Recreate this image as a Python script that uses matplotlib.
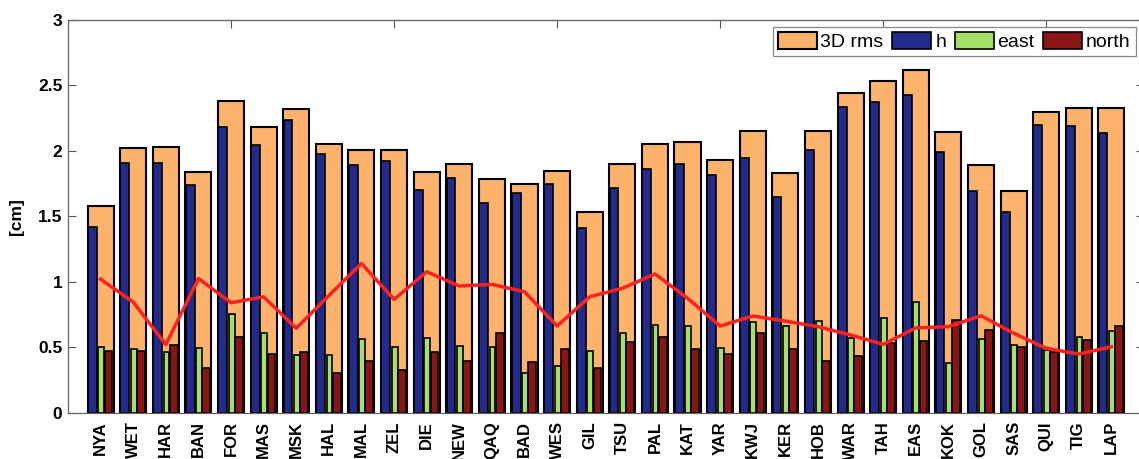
import matplotlib.pyplot as plt
import numpy as np

plt.rcParams['font.family'] = ['Liberation Sans', 'DejaVu Sans']

# station codes along the x axis
stations = ['NYA', 'WET', 'HAR', 'BAN', 'FOR', 'MAS', 'MSK', 'HAL', 'MAL', 'ZEL',
            'DIE', 'NEW', 'QAQ', 'BAD', 'WES', 'GIL', 'TSU', 'PAL', 'KAT', 'YAR',
            'KWJ', 'KER', 'HOB', 'WAR', 'TAH', 'EAS', 'KOK', 'GOL', 'SAS', 'QUI',
            'TIG', 'LAP']

# values in cm
rms3d = [1.58, 2.02, 2.03, 1.84, 2.38, 2.18, 2.32, 2.05, 2.01, 2.01,
         1.84, 1.90, 1.785, 1.745, 1.85, 1.53, 1.90, 2.055, 2.065, 1.93,
         2.15, 1.83, 2.155, 2.44, 2.535, 2.62, 2.145, 1.89, 1.69, 2.30,
         2.325, 2.325]
h = [1.42, 1.905, 1.905, 1.74, 2.18, 2.045, 2.235, 1.98, 1.89, 1.92,
     1.70, 1.79, 1.605, 1.675, 1.75, 1.41, 1.715, 1.86, 1.90, 1.815,
     1.945, 1.645, 2.005, 2.335, 2.375, 2.425, 1.99, 1.695, 1.535, 2.20,
     2.19, 2.14]
east = [0.50, 0.485, 0.465, 0.495, 0.755, 0.61, 0.44, 0.44, 0.56, 0.50,
        0.57, 0.51, 0.505, 0.30, 0.355, 0.475, 0.61, 0.67, 0.66, 0.495,
        0.69, 0.66, 0.70, 0.57, 0.72, 0.845, 0.38, 0.56, 0.515, 0.48,
        0.575, 0.625]
north = [0.475, 0.475, 0.52, 0.345, 0.575, 0.45, 0.46, 0.305, 0.395, 0.325,
         0.46, 0.395, 0.61, 0.39, 0.485, 0.34, 0.54, 0.575, 0.485, 0.45,
         0.61, 0.49, 0.395, 0.435, 0.53, 0.55, 0.705, 0.635, 0.505, 0.465,
         0.555, 0.66]
red_line = [1.02, 0.845, 0.52, 1.025, 0.84, 0.885, 0.645, 0.895, 1.14, 0.865,
            1.077, 0.968, 0.98, 0.924, 0.662, 0.886, 0.95, 1.06, 0.874, 0.662,
            0.739, 0.70, 0.657, 0.594, 0.522, 0.648, 0.657, 0.741, 0.607, 0.492,
            0.448, 0.504]

x = np.arange(1, len(stations) + 1)

fig = plt.figure(figsize=(11.39, 4.59), dpi=100)
ax = fig.add_axes([68 / 1139, 1 - 412.7 / 459, (1144 - 68) / 1139, (412.7 - 20) / 459])

ax.bar(x, rms3d, width=0.8, color='#fdb36b', edgecolor='black', linewidth=1.5,
       label='3D rms', zorder=1)
ax.bar(x - 0.255, h, width=0.27, color='#222a8c', edgecolor='black', linewidth=1.2,
       label='h', zorder=2)
ax.bar(x + 0.02, east, width=0.18, color='#a6e06a', edgecolor='black', linewidth=1.2,
       label='east', zorder=2)
ax.bar(x + 0.24, north, width=0.24, color='#8b1414', edgecolor='black', linewidth=1.2,
       label='north', zorder=2)
ax.plot(x, red_line, color='#ff2020', linewidth=2.5, zorder=3)

ax.set_xlim(0, 33)
ax.set_ylim(0, 3)
ax.set_yticks([0, 0.5, 1, 1.5, 2, 2.5, 3], labels=['0', '0.5', '1', '1.5', '2', '2.5', '3'])
ax.set_xticks(x, labels=stations, rotation=90, fontsize=12, fontweight='bold')
ax.tick_params(axis='x', length=0, pad=6)
ax.tick_params(axis='y', direction='in', length=6, color='#555555', labelsize=12.5,
               right=True, pad=4)
for lab in ax.get_yticklabels():
    lab.set_fontweight('bold')

top = ax.secondary_xaxis('top')
top.set_xticks([5, 10, 15, 20, 25, 30])
top.tick_params(direction='in', length=6, color='#555555', labeltop=False)
top.spines['top'].set_color('#666666')

for sp in ax.spines.values():
    sp.set_color('#666666')
    sp.set_linewidth(0.9)

ax.set_ylabel('[cm]', fontsize=12.5, fontweight='bold', labelpad=10)

leg = ax.legend(ncol=4, loc='upper right', bbox_to_anchor=(1134 / 1144 + 0.001, 1 - 7 / 392.7),
                borderaxespad=0, fontsize=14, handlelength=2.0, handleheight=0.95,
                handletextpad=0.2, columnspacing=0.45, borderpad=0.25,
                fancybox=False, framealpha=1, edgecolor='#888888')
leg.get_frame().set_linewidth(0.9)

fig.savefig('out.png', dpi=100)
